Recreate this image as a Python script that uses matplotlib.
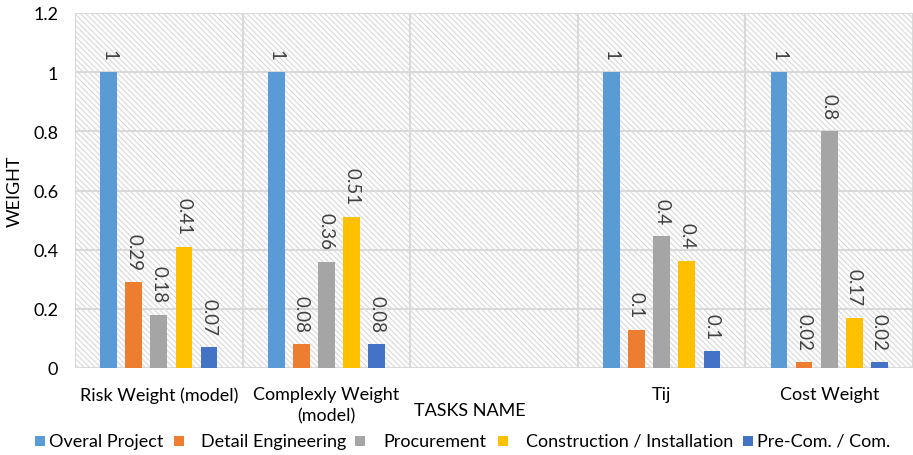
import numpy as np
import matplotlib
matplotlib.use("Agg")
import matplotlib.pyplot as plt
from matplotlib.patches import Rectangle

plt.rcParams['font.family'] = ['Lato', 'DejaVu Sans']
plt.rcParams['hatch.linewidth'] = 0.8

categories = ["Risk Weight (model)", "Complexly Weight\n(model)", "", "Tij", "Cost Weight"]
series_names = ["Overal Project", "Detail Engineering", "Procurement",
                "Construction / Installation", "Pre-Com. / Com."]
overal_project = [1.0, 1.0, np.nan, 1.0, 1.0]
detail_engineering = [0.29, 0.08, np.nan, 0.128, 0.02]
procurement = [0.18, 0.36, np.nan, 0.445, 0.8]
construction = [0.41, 0.51, np.nan, 0.362, 0.17]
precom = [0.07, 0.08, np.nan, 0.056, 0.02]
label_decimals = [2, 2, 2, 1, 2]

series = [overal_project, detail_engineering, procurement, construction, precom]
colors = ["#5b9bd5", "#ed7d31", "#a5a5a5", "#ffc000", "#4472c4"]

W, H = 913, 456
fig = plt.figure(figsize=(W / 100, H / 100), dpi=100)
ax = fig.add_axes([75 / W, 1 - 369 / H, 838 / W, 355 / H])

x = np.arange(len(categories))
ax.set_xlim(-0.5, len(categories) - 0.5)
ax.set_ylim(0, 1.2)

# hatched plot-area background
ax.add_patch(Rectangle((0, 0), 1, 1, transform=ax.transAxes, facecolor='white',
                       edgecolor='#d8d8d8', linewidth=0, hatch='\\' * 6, zorder=0))

width = 0.1
step = 0.15
for i, (vals, col) in enumerate(zip(series, colors)):
    offs = (i - 2) * step
    ax.bar(x + offs, vals, width=width, color=col, zorder=3)
    for j, v in enumerate(vals):
        if np.isnan(v):
            continue
        txt = f"{round(v, label_decimals[j]):g}"
        ax.annotate(txt, (x[j] + offs, v), xytext=(0, 9), textcoords='offset points',
                    rotation=270, ha='center', va='bottom', fontsize=13.5,
                    color='#404040', zorder=4)

# grid lines
for yv in np.arange(0, 1.21, 0.2):
    ax.axhline(yv, color='#d9d9d9', lw=1.5, zorder=1)
for xv in np.arange(-0.5, len(categories), 1.0):
    ax.axvline(xv, color='#d9d9d9', lw=1.5, zorder=1)

for s in ax.spines.values():
    s.set_visible(False)

ax.set_yticks(np.arange(0, 1.21, 0.2))
ax.set_yticklabels(["0", "0.2", "0.4", "0.6", "0.8", "1", "1.2"])
ax.set_xticks(x)
ax.set_xticklabels(categories, va='top', linespacing=1.4)
ax.tick_params(axis='both', length=0, labelsize=13, colors='#000000')
ax.tick_params(axis='x', pad=13)
ax.tick_params(axis='y', pad=12)

fig.text(15 / W, 1 - 191 / H, "WEIGHT", rotation=90, ha='center', va='center', fontsize=13)
fig.text(470 / W, 1 - 411 / H, "TASKS NAME", ha='center', va='center', fontsize=13)

# legend row below the axis
legend_square_x = [35, 174, 355, 498, 743]
legend_text_x = [49, 201, 383, 526, 757]
ly = 442
for sx, tx, name, col in zip(legend_square_x, legend_text_x, series_names, colors):
    fig.patches.append(Rectangle((sx / W, 1 - (ly + 5) / H), 10 / W, 10 / H,
                                 transform=fig.transFigure, facecolor=col,
                                 edgecolor='none', figure=fig))
    fig.text(tx / W, 1 - ly / H, name, ha='left', va='center', fontsize=13)

fig.savefig("out.png", dpi=100)
